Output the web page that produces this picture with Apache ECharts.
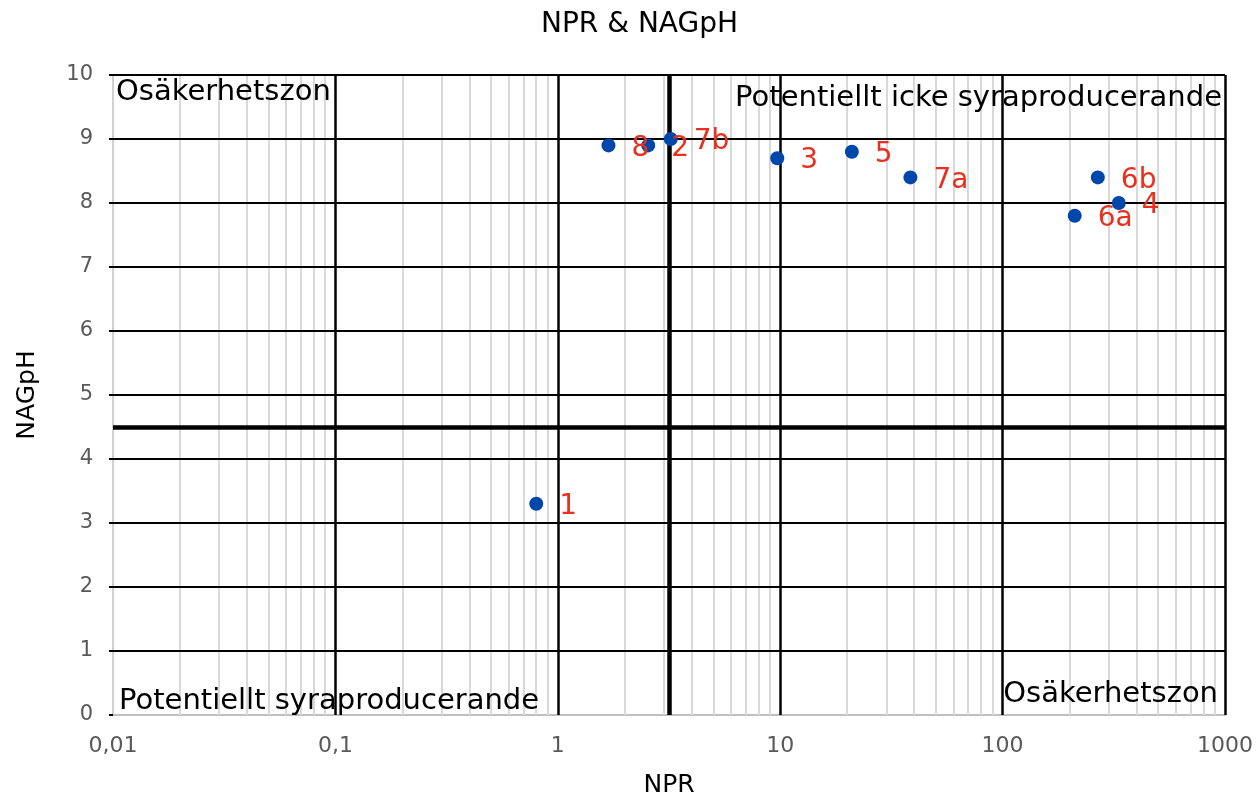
<!DOCTYPE html>
<html lang="sv">
<head>
    <meta charset="UTF-8">
    <title>NPR & NAGpH</title>
    <script type="text/javascript" src="https://cdn.jsdelivr.net/npm/echarts@6/dist/echarts.min.js"></script>
    <style>
        html, body { margin: 0; padding: 0; background: #fff; }
        #chart1 { width: 1258px; height: 796px; }
    </style>
</head>
<body>
<div id="chart1"></div>
<script type="text/javascript">
    // prov-etiketter, NPR (x, log) och NAGpH (y)
    var labels = ['1', '8', '2', '7b', '3', '5', '7a', '6a', '6b', '4'];
    var nprValues = [0.80, 1.69, 2.55, 3.22, 9.7, 21, 38.5, 211, 268, 333];
    var nagphValues = [3.3, 8.9, 8.9, 9.0, 8.7, 8.8, 8.4, 7.8, 8.4, 8.0];

    // axlarnas steg och gränslinjer
    var xTicks = [0.01, 0.1, 1, 10, 100, 1000];
    var xTickLabels = ['0,01', '0,1', '1', '10', '100', '1000'];
    var yTicks = [1, 2, 3, 4, 5, 6, 7, 8, 9, 10];
    var nprLimit = 3.16;
    var phLimit = 4.5;

    // mindre stödlinjer 2..9 i varje dekad
    var minorLines = [];
    for (var d = 0; d < xTicks.length - 1; d++) {
        for (var m = 2; m <= 9; m++) {
            minorLines.push({xAxis: +(xTicks[d] * m).toPrecision(3)});
        }
    }

    var points = [];
    for (var i = 0; i < labels.length; i++) {
        points.push({value: [nprValues[i], nagphValues[i]], name: labels[i]});
    }

    var font = 'DejaVu Sans, Verdana, sans-serif';

    function gridLines(data, color, width, z) {
        return {
            type: 'line',
            data: [],
            silent: true,
            z: z,
            markLine: {
                silent: true,
                symbol: 'none',
                label: {show: false},
                lineStyle: {color: color, width: width, type: 'solid'},
                data: data
            }
        };
    }

    var myChart = echarts.init(document.getElementById('chart1'));
    var option = {
        animation: false,
        title: {
            text: 'NPR & NAGpH',
            left: 536,
            top: 6,
            textStyle: {fontFamily: font, fontSize: 28, fontWeight: 'normal', color: '#000'}
        },
        grid: {left: 113, right: 33, top: 75, bottom: 81, outerBoundsMode: 'none', containLabel: false},
        xAxis: {
            type: 'log',
            logBase: 10,
            min: 0.01,
            max: 1000,
            name: 'NPR',
            nameLocation: 'middle',
            nameGap: 58,
            nameTextStyle: {fontFamily: font, fontSize: 25, color: '#000'},
            axisLine: {show: true, lineStyle: {color: '#bfbfbf', width: 2}},
            axisTick: {show: false},
            axisLabel: {
                fontFamily: font, fontSize: 22, color: '#595959', margin: 20,
                formatter: function (v) {
                    var idx = xTicks.indexOf(+v.toPrecision(3));
                    return idx >= 0 ? xTickLabels[idx] : '';
                }
            },
            splitLine: {show: false}
        },
        yAxis: {
            type: 'value',
            min: 0,
            max: 10,
            interval: 1,
            name: 'NAGpH',
            nameLocation: 'middle',
            nameGap: 73,
            nameTextStyle: {fontFamily: font, fontSize: 25, color: '#000'},
            axisLine: {show: true, lineStyle: {color: '#d0d0d0', width: 2}},
            axisTick: {show: true, length: 4, lineStyle: {color: '#000', width: 2}},
            axisLabel: {fontFamily: font, fontSize: 21, color: '#595959', margin: 20},
            splitLine: {show: false}
        },
        series: [
            gridLines(minorLines, '#d9d9d9', 2, 1),
            gridLines(xTicks.slice(1).map(function (t) { return {xAxis: t}; }), '#000', 2.5, 2),
            gridLines(yTicks.map(function (t) { return {yAxis: t}; }), '#000', 2, 2),
            gridLines([{xAxis: nprLimit}, {yAxis: phLimit}], '#000', 4.5, 3),
            {
                name: 'NPR & NAGpH',
                type: 'scatter',
                symbolSize: 14,
                z: 5,
                itemStyle: {color: '#0047ab', opacity: 1},
                label: {
                    show: true,
                    position: 'right',
                    distance: 16,
                    offset: [0, 3],
                    fontFamily: font,
                    fontSize: 28,
                    color: '#e8301e',
                    formatter: function (p) { return p.name; }
                },
                data: points
            }
        ],
        graphic: [
            {
                type: 'text', left: 116, top: 78, z: 10,
                style: {text: 'Osäkerhetszon', font: '29px "DejaVu Sans"', fill: '#000'}
            },
            {
                type: 'text', right: 36, top: 84, z: 10,
                style: {text: 'Potentiellt icke syraproducerande', font: '29px "DejaVu Sans"', fill: '#000'}
            },
            {
                type: 'text', left: 119, top: 687, z: 10,
                style: {text: 'Potentiellt syraproducerande', font: '29px "DejaVu Sans"', fill: '#000'}
            },
            {
                type: 'text', right: 40, top: 680, z: 10,
                style: {text: 'Osäkerhetszon', font: '29px "DejaVu Sans"', fill: '#000'}
            }
        ]
    };
    myChart.setOption(option);
</script>
</body>
</html>
